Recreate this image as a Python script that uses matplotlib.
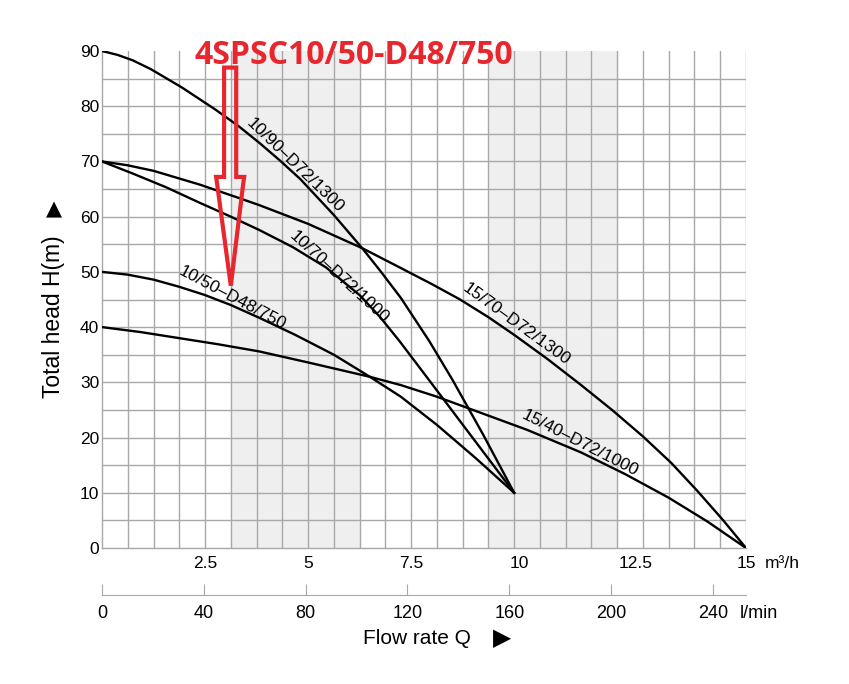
import matplotlib
matplotlib.use("Agg")
import matplotlib.pyplot as plt
from matplotlib.patches import Polygon

# Pump curves, flow in l/min (grid units), head in m
q_10_90 = [0, 6, 12, 19, 31, 44, 53, 61, 69, 77, 90, 101, 108, 116, 127, 136, 148, 160]
h_10_90 = [90, 89.3, 88.3, 86.7, 83.4, 79.4, 76.4, 73.4, 70.2, 66.8, 60.3, 54.3,
           50.2, 45.3, 37.5, 30.5, 20.5, 10]

q_10_70 = [0, 12, 25, 38, 50, 61, 74, 87, 100, 108, 115.6, 126, 143, 160]
h_10_70 = [70, 67.8, 65.3, 62.5, 60, 57.6, 54.5, 50.8, 45.8, 41.8, 37.4, 31, 20.5, 10]

q_10_50 = [0, 10, 20, 30, 40, 50, 61, 75, 90, 104, 116, 130, 145, 160]
h_10_50 = [50, 49.5, 48.6, 47.3, 45.8, 44, 41.7, 38.6, 35, 31, 27.4, 22.3, 16.3, 10]

q_15_70 = [0, 10, 20, 38, 53, 61, 80, 101, 116, 128, 139, 150, 160, 173, 186, 198,
           210, 221, 231, 241, 250]
h_15_70 = [70, 69.3, 68.3, 65.8, 63.4, 62.1, 58.7, 54.3, 50.7, 47.8, 45, 41.8, 38.6,
           34.2, 29.5, 25, 20.2, 15.4, 10.4, 5.1, 0]

q_15_40 = [0, 15, 30, 45, 61, 80, 104, 116, 130, 144, 165, 186, 203, 220, 235, 250]
h_15_40 = [40, 39.1, 38, 36.9, 35.6, 33.6, 31, 29.5, 27.4, 25, 21.4, 17.3, 13.4, 9.1,
           4.8, 0]

curves = [
    (q_10_90, h_10_90, "10/90–D72/1300", (75, 69.2), -44),
    (q_10_70, h_10_70, "10/70–D72/1000", (92.1, 49.1), -42.5),
    (q_10_50, h_10_50, "10/50–D48/750", (50.5, 45.3), -28),
    (q_15_70, h_15_70, "15/70–D72/1300", (161, 40.6), -36),
    (q_15_40, h_15_40, "15/40–D72/1000", (185.5, 19), -27),
]

# axis labels
head_ticks = [0, 10, 20, 30, 40, 50, 60, 70, 80, 90]
m3h_labels = ["2.5", "5", "7.5", "10", "12.5", "15"]
m3h_pos = [40, 80, 120, 162, 207, 250]
lmin_ticks = [0, 40, 80, 120, 160, 200, 240]
shade_bands = [(50, 100), (150, 200)]

title = "4SPSC10/50-D48/750"
red = "#e8262d"
grid_c = "#a8a8a8"
font = "Liberation Sans"

fig = plt.figure(figsize=(8.49, 6.84), dpi=100)
ax = fig.add_axes([102 / 849, 1 - 548 / 684, 644 / 849, 497 / 684])
ax.set_xlim(0, 250)
ax.set_ylim(0, 90)

for a, b in shade_bands:
    ax.axvspan(a, b, color="#efefef", lw=0, zorder=0)

for x in range(10, 251, 10):
    ax.axvline(x, color=grid_c, lw=1.0, zorder=1)
for y in range(5, 90, 5):
    ax.axhline(y, color=grid_c, lw=1.0, zorder=1)

for s in ["top", "right"]:
    ax.spines[s].set_visible(False)
for s in ["left", "bottom"]:
    ax.spines[s].set_color(grid_c)
    ax.spines[s].set_linewidth(1.0)

for q, h, name, (lx, ly), rot in curves:
    ax.plot(q, h, color="black", lw=1.7, zorder=3, solid_joinstyle="round")
    ax.text(lx, ly, name, rotation=rot, rotation_mode="anchor", ha="center",
            va="center", fontsize=12.5, family=font, zorder=4)

ax.set_yticks(head_ticks)
ax.set_yticklabels([str(v) for v in head_ticks], fontsize=12.5, family=font)
ax.set_xticks(m3h_pos)
ax.set_xticklabels(m3h_labels, fontsize=12.5, family=font)
ax.tick_params(axis="both", length=0)
ax.tick_params(axis="y", pad=2)
ax.tick_params(axis="x", pad=6)

fig.text(765 / 849, 1 - 563 / 684, "m³/h", fontsize=12.5, family=font,
         ha="left", va="center")

# red arrow pointing at the 10/50 curve
arrow = [(47.4, 87.0), (52.1, 87.0), (52.1, 67.2), (55.2, 67.2), (54.8, 65.9),
         (50.0, 47.5), (44.7, 65.9), (44.3, 67.2), (47.4, 67.2)]
ax.add_patch(Polygon(arrow, closed=True, fill=False, edgecolor=red, lw=3,
                     zorder=5, clip_on=False))
fig.text(354 / 849, 1 - 55 / 684, title, color=red, fontsize=23,
         fontweight="bold", family=["Open Sans", "DejaVu Sans"], ha="center",
         va="center")

# l/min scale below
ax2 = fig.add_axes([102 / 849, 1 - 595 / 684, 644 / 849, 0.001])
ax2.set_xlim(0, 253)
ax2.set_yticks([])
for s in ["top", "right", "left"]:
    ax2.spines[s].set_visible(False)
ax2.spines["bottom"].set_color(grid_c)
ax2.patch.set_visible(False)
ax2.set_xticks(lmin_ticks)
ax2.set_xticklabels([str(v) for v in lmin_ticks], fontsize=13, family=font)
ax2.tick_params(axis="x", direction="in", length=8, color=grid_c, pad=7)
fig.text(740 / 849, 1 - 613 / 684, "l/min", fontsize=13, family=font,
         ha="left", va="center")

fig.text(417 / 849, 1 - 638 / 684, "Flow rate Q", fontsize=15, family=font,
         ha="center", va="center")
fig.text(502 / 849, 1 - 638 / 684, "▶", fontsize=17, family="DejaVu Sans",
         ha="center", va="center")
fig.text(54 / 849, 1 - 317 / 684, "Total head H(m)", fontsize=16.5,
         family=font, rotation=90, ha="center", va="center")
fig.text(54 / 849, 1 - 209 / 684, "▲", fontsize=15, family="DejaVu Sans",
         ha="center", va="center")

fig.savefig("out.png", dpi=100)
